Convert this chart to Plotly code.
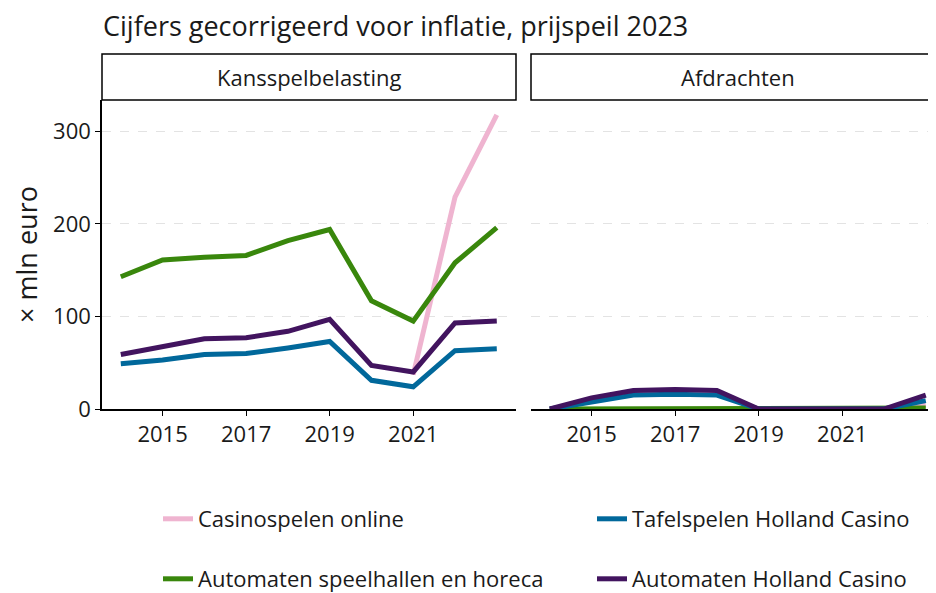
import plotly.graph_objects as go

years = [2014, 2015, 2016, 2017, 2018, 2019, 2020, 2021, 2022, 2023]

# Kansspelbelasting (mln euro)
ksb_casino_online = [None, None, None, None, None, None, None, 37, 229, 318]
ksb_automaten_speelhallen = [143, 161, 164, 166, 182, 194, 117, 95, 158, 196]
ksb_tafelspelen_hc = [49, 53, 59, 60, 66, 73, 31, 24, 63, 65]
ksb_automaten_hc = [59, 68, 76, 77, 84, 97, 47, 40, 93, 95]

# Afdrachten (mln euro)
afd_casino_online = [None, None, None, None, None, None, None, 0, 0, 4]
afd_automaten_speelhallen = [0, 0, 0, 0, 0, 0, 0, 0, 0, 1]
afd_tafelspelen_hc = [0, 8, 15, 16, 15, 0, 0, 0, 0, 9]
afd_automaten_hc = [0, 12, 20, 21, 20, 0, 0, 0, 0, 15]

series_names = ["Casinospelen online", "Automaten speelhallen en horeca",
                "Tafelspelen Holland Casino", "Automaten Holland Casino"]
colors = ["#EFB4D0", "#39870C", "#01689B", "#42145F"]
legend_ids = ["legend", "legend3", "legend2", "legend4"]

panel_titles = ["Kansspelbelasting", "Afdrachten"]
x_ticks = [2015, 2017, 2019, 2021]
y_ticks = [0, 100, 200, 300]

FONT = "Open Sans"
TXT = "#1a1a1a"
OFF = 8  # page body margin of the browser
W, H = 936 - OFF, 593 - OFF
PL, PT, PB = 102, 100, 409  # plot area in page pixels
ML, MR, MT = PL - OFF, 0, PT - OFF
MB = H - (PB - OFF)
PW = W - ML - MR
PH = H - MT - MB

left_dom = [0, (516 - PL) / PW]
right_dom = [(531 - PL) / PW, 1]

fig = go.Figure()

ksb = [ksb_casino_online, ksb_automaten_speelhallen, ksb_tafelspelen_hc, ksb_automaten_hc]
afd = [afd_casino_online, afd_automaten_speelhallen, afd_tafelspelen_hc, afd_automaten_hc]

for i in range(4):
    fig.add_trace(go.Scatter(x=years, y=ksb[i], mode="lines", name=series_names[i],
                             line=dict(color=colors[i], width=5), xaxis="x", yaxis="y",
                             legend=legend_ids[i], legendgroup=series_names[i]))
for i in range(4):
    fig.add_trace(go.Scatter(x=years, y=afd[i], mode="lines", name=series_names[i],
                             line=dict(color=colors[i], width=5), xaxis="x2", yaxis="y2",
                             showlegend=False, legendgroup=series_names[i]))

yrange = [0, 334]
xrange_l = [2013.55, 2023.46]
xrange_r = [2013.55, 2023.46 - 9 / 41.78]

axis_font = dict(family=FONT, size=22, color=TXT)

common_x = dict(tickvals=x_ticks, ticktext=[str(t) for t in x_ticks], showline=True,
                linecolor="black", linewidth=1.5, ticks="outside", ticklen=5,
                tickcolor="black", tickwidth=1, showgrid=False, zeroline=False,
                tickfont=axis_font, automargin=False)
common_y = dict(range=yrange, tickvals=y_ticks, showgrid=True, gridcolor="#e3e3e3",
                griddash="dash", gridwidth=1, zeroline=False, tickfont=axis_font,
                automargin=False)


def leg(px_x, px_y):
    return dict(orientation="h", x=(px_x - PL) / PW, xanchor="left",
                y=-(px_y - PB) / PH, yanchor="middle",
                font=dict(family=FONT, size=22, color=TXT), bgcolor="rgba(0,0,0,0)")


fig.update_layout(
    width=W, height=H,
    margin=dict(l=ML, r=MR, t=MT, b=MB, autoexpand=False),
    plot_bgcolor="white", paper_bgcolor="white",
    font=dict(family=FONT, color=TXT),
    xaxis=dict(domain=left_dom, range=xrange_l, **common_x),
    xaxis2=dict(domain=right_dom, range=xrange_r, anchor="y2", **common_x),
    yaxis=dict(domain=[0, 1], showline=True, linecolor="black", linewidth=1.5,
               ticks="outside", ticklen=5, tickcolor="black",
               title=dict(text="× mln euro", font=dict(family=FONT, size=27, color=TXT),
                          standoff=10),
               **common_y),
    yaxis2=dict(domain=[0, 1], anchor="x2", showline=False, showticklabels=False,
                ticks="", **common_y),
    title=dict(text="Cijfers gecorrigeerd voor inflatie, prijspeil 2023",
               x=(103 - OFF) / W, xanchor="left", xref="container",
               y=1 - (27 - OFF) / H, yanchor="middle", yref="container",
               font=dict(family=FONT, size=27, color=TXT)),
    legend=leg(158, 519),
    legend2=leg(592, 519),
    legend3=leg(158, 579),
    legend4=leg(592, 579),
)

strip_h = 46 / PH
for dom, title in zip([left_dom, right_dom], panel_titles):
    x1 = dom[1] if dom[1] < 1 else 1.02
    fig.add_shape(type="rect", xref="paper", yref="paper", x0=dom[0], x1=x1,
                  y0=1, y1=1 + strip_h, line=dict(color="black", width=1.5),
                  fillcolor="white", layer="above")
    fig.add_annotation(text=title, xref="paper", yref="paper",
                       x=dom[0] + (414 / PW) / 2, y=1 + strip_h / 2,
                       showarrow=False, xanchor="center", yanchor="middle",
                       font=dict(family=FONT, size=22, color=TXT))

fig.write_html("out.html")
